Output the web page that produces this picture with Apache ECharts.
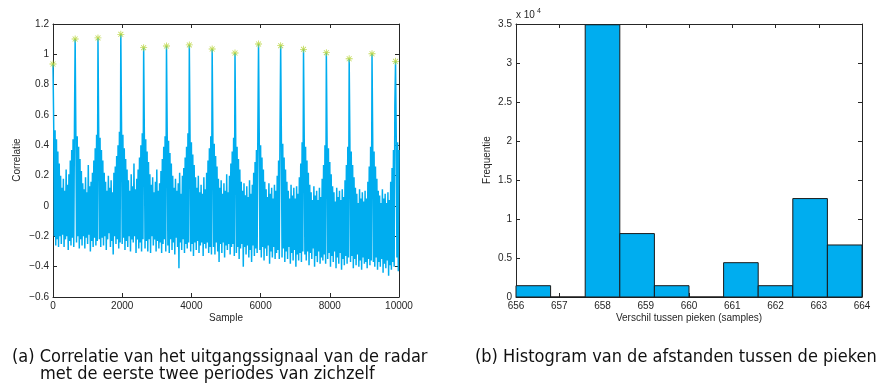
<!DOCTYPE html>
<html><head><meta charset="utf-8">
<script src="https://cdn.jsdelivr.net/npm/echarts@6/dist/echarts.min.js"></script>
<style>html,body{margin:0;padding:0;background:#fff}#c{width:885px;height:389px}</style>
</head><body><div id="c"></div>
<script>
// ---- (a) correlation signal: one value every sampleStep samples ----
const sampleStep = 20;
const correlation = [
0.936,
0.54,-0.2,0.5,-0.26,0.44,-0.22,0.36,-0.27,0.28,-0.2,0.2,-0.25,0.12,-0.19,0.18,-0.27,0.1,-0.22,0.24,-0.2,0.14,-0.29,0.21,-0.23,0.3,-0.26,0.37,-0.21,0.44,-0.27,0.52,
1.101,
0.5,-0.24,0.46,-0.2,0.39,-0.28,0.31,-0.22,0.23,-0.26,0.15,-0.2,0.11,-0.28,0.19,-0.21,0.09,-0.25,0.27,-0.19,0.13,-0.3,0.16,-0.23,0.22,-0.27,0.3,-0.21,0.38,-0.26,0.47,-0.23,
1.108,
0.52,-0.22,0.45,-0.27,0.37,-0.21,0.3,-0.26,0.22,-0.2,0.16,-0.29,0.1,-0.22,0.2,-0.18,0.12,-0.27,0.17,-0.23,0.09,-0.32,0.22,-0.2,0.26,-0.25,0.33,-0.22,0.4,-0.28,0.49,-0.24,
1.132,
0.55,-0.25,0.47,-0.21,0.38,-0.29,0.31,-0.23,0.24,-0.27,0.17,-0.2,0.1,-0.3,0.21,-0.22,0.13,-0.24,0.28,-0.2,0.11,-0.31,0.18,-0.22,0.24,-0.28,0.32,-0.24,0.4,-0.3,0.48,-0.22,
1.044,
0.48,-0.28,0.44,-0.23,0.36,-0.3,0.29,-0.22,0.21,-0.31,0.14,-0.2,0.19,-0.26,0.09,-0.22,0.16,-0.3,0.24,-0.23,0.1,-0.28,0.15,-0.24,0.23,-0.31,0.31,-0.25,0.39,-0.22,0.46,-0.3,
1.055,
0.5,-0.26,0.43,-0.31,0.35,-0.22,0.28,-0.29,0.2,-0.24,0.12,-0.32,0.18,-0.21,0.1,-0.27,0.15,-0.41,0.22,-0.24,0.08,-0.29,0.2,-0.22,0.25,-0.31,0.32,-0.25,0.39,-0.28,0.48,-0.24,
1.062,
0.47,-0.3,0.42,-0.25,0.34,-0.33,0.27,-0.24,0.19,-0.29,0.12,-0.23,0.2,-0.31,0.09,-0.26,0.14,-0.24,0.08,-0.33,0.19,-0.25,0.11,-0.28,0.22,-0.24,0.3,-0.31,0.38,-0.27,0.46,-0.32,
1.035,
0.48,-0.27,0.41,-0.32,0.33,-0.24,0.26,-0.3,0.18,-0.37,0.12,-0.25,0.17,-0.31,0.08,-0.24,0.15,-0.34,0.1,-0.26,0.21,-0.29,0.09,-0.25,0.2,-0.32,0.28,-0.27,0.36,-0.25,0.45,-0.33,
1.009,
0.46,-0.31,0.39,-0.27,0.31,-0.35,0.24,-0.28,0.16,-0.25,0.1,-0.4,0.15,-0.27,0.07,-0.32,0.13,-0.26,0.06,-0.34,0.17,-0.29,0.08,-0.37,0.14,-0.26,0.22,-0.33,0.29,-0.28,0.37,-0.31,0.47,
1.068,
0.49,-0.29,0.4,-0.34,0.32,-0.27,0.24,-0.36,0.16,-0.28,0.11,-0.33,0.06,-0.26,0.15,-0.38,0.08,-0.3,0.12,-0.34,0.05,-0.27,0.14,-0.35,0.1,-0.31,0.2,-0.29,0.3,-0.35,0.46,
1.057,
0.47,-0.34,0.41,-0.28,0.32,-0.37,0.24,-0.3,0.16,-0.35,0.1,-0.27,0.05,-0.38,0.14,-0.31,0.07,-0.36,0.12,-0.29,0.05,-0.4,0.13,-0.32,0.08,-0.36,0.19,-0.31,0.28,-0.37,0.42,-0.3,
1.033,
0.47,-0.32,0.39,-0.36,0.3,-0.3,0.22,-0.39,0.14,-0.31,0.09,-0.35,0.04,-0.28,0.13,-0.4,0.07,-0.33,0.1,-0.37,0.04,-0.3,0.12,-0.38,0.06,-0.34,0.18,-0.36,0.27,-0.32,0.4,-0.38,
1.011,
0.45,-0.35,0.38,-0.31,0.29,-0.4,0.21,-0.33,0.13,-0.37,0.09,-0.3,0.03,-0.41,0.12,-0.34,0.06,-0.38,0.1,-0.31,0.04,-0.42,0.11,-0.35,0.06,-0.39,0.17,-0.33,0.27,-0.38,0.39,-0.34,
0.971,
0.44,-0.37,0.36,-0.33,0.27,-0.41,0.19,-0.35,0.12,-0.39,0.08,-0.32,0.02,-0.4,0.11,-0.36,0.05,-0.42,0.09,-0.34,0.03,-0.38,0.1,-0.37,0.05,-0.41,0.16,-0.35,0.26,-0.39,0.39,-0.36,
1.004,
0.44,-0.37,0.36,-0.4,0.26,-0.34,0.18,-0.42,0.1,-0.37,0.07,-0.4,0.02,-0.35,0.11,-0.44,0.05,-0.38,0.08,-0.41,0.02,-0.36,0.09,-0.46,0.04,-0.39,0.16,-0.42,0.25,-0.37,0.37,-0.4,0.66,
0.954,
0.46,-0.34,0.42,-0.43,0.37
];
// detected peaks (sample, correlation)
const peakSamples = [0,640,1300,1960,2620,3280,3940,4600,5260,5940,6580,7240,7900,8560,9220,9900];
const peakValues  = [0.936,1.101,1.108,1.132,1.044,1.055,1.062,1.035,1.009,1.068,1.057,1.033,1.011,0.971,1.004,0.954];

// ---- (b) histogram of peak distances ----
const binEdges  = [656,656.8,657.6,658.4,659.2,660,660.8,661.6,662.4,663.2,664];
const binCounts = [1450,0,34900,8130,1450,0,4400,1450,12620,6670];

// axis ranges / tick settings
const corrX = {min:0, max:10000, interval:2000};
const corrY = {min:-0.6, max:1.2, interval:0.2};
const histX = {min:656, max:664, interval:1};
const histY = {min:0, max:35000, interval:5000};

const captionA1 = '(a) Correlatie van het uitgangssignaal van de radar';
const captionA2 = 'met de eerste twee periodes van zichzelf';
const captionB  = '(b) Histogram van de afstanden tussen de pieken';

const AX = '#262626';
const TF = 'Liberation Sans, Arial, Helvetica, sans-serif';
const CF = '"DejaVu Sans Condensed", "DejaVu Sans", sans-serif';
const BLUE = '#00adef';

function axis(grid, rng, pos, labels, fmt){
  return {
    type:'value', gridIndex:grid, position:pos,
    min:rng.min, max:rng.max, interval:rng.interval,
    axisLine:{show:true, onZero:false, lineStyle:{color:AX, width:1}},
    axisTick:{show:true, inside:true, length:4, lineStyle:{color:AX}},
    axisLabel:{show:labels, color:AX, fontSize:10, fontFamily:TF, margin:4, formatter:fmt,
               showMinLabel:true, showMaxLabel:true},
    splitLine:{show:false}
  };
}
const fmtCorr = v => String(+(+v).toFixed(1)).replace('-', '\u2212');
const fmtPlain = v => String(+(+v).toFixed(1));
const fmtHist = v => String(+(v/10000).toFixed(2));

const chart = echarts.init(document.getElementById('c'), null, {renderer:'canvas'});
chart.setOption({
  animation:false,
  backgroundColor:'#fff',
  grid:[
    {left:53, top:24, width:346, height:273},
    {left:516, top:24, width:346, height:273}
  ],
  xAxis:[
    axis(0,corrX,'bottom',true,fmtPlain),
    axis(0,corrX,'top',false),
    axis(1,histX,'bottom',true,fmtPlain),
    axis(1,histX,'top',false)
  ],
  yAxis:[
    axis(0,corrY,'left',true,fmtCorr),
    axis(0,corrY,'right',false),
    axis(1,histY,'left',true,fmtHist),
    axis(1,histY,'right',false)
  ],
  series:[
    {
      type:'line', xAxisIndex:0, yAxisIndex:0,
      data: correlation.map((v,i)=>[i*sampleStep, v]),
      showSymbol:false, symbol:'none', sampling:null,
      lineStyle:{color:BLUE, width:1.5}, z:2
    },
    {
      type:'scatter', xAxisIndex:0, yAxisIndex:0,
      data: peakSamples.map((s,i)=>[s, peakValues[i]]),
      symbol:'path://M-0.6,-5L0.6,-5L0.6,5L-0.6,5ZM-5,-0.6L5,-0.6L5,0.6L-5,0.6ZM-3.9,-3.1L-3.1,-3.9L3.9,3.1L3.1,3.9ZM3.1,-3.9L3.9,-3.1L-3.1,3.9L-3.9,3.1Z',
      symbolSize:7,
      itemStyle:{color:'#b4d232'}, z:5
    },
    {
      type:'custom', xAxisIndex:2, yAxisIndex:2,
      data: binCounts.map((c,i)=>[binEdges[i], binEdges[i+1], c]),
      encode:{x:[0,1], y:2},
      renderItem:function(params, api){
        const p0 = api.coord([api.value(0), api.value(2)]);
        const p1 = api.coord([api.value(1), 0]);
        return {type:'rect',
          shape:{x:p0[0], y:p0[1], width:p1[0]-p0[0], height:p1[1]-p0[1]},
          style:{fill:BLUE, stroke:'#1a1a1a', lineWidth:1}};
      }, z:2
    }
  ],
  graphic:[
    {type:'text', x:17, y:160, rotation:Math.PI/2,
     style:{text:'Correlatie', fill:AX, font:'10px '+TF, textAlign:'center', textVerticalAlign:'middle'}},
    {type:'text', x:226, y:318,
     style:{text:'Sample', fill:AX, font:'10px '+TF, textAlign:'center', textVerticalAlign:'middle'}},
    {type:'text', x:487, y:160, rotation:Math.PI/2,
     style:{text:'Frequentie', fill:AX, font:'10px '+TF, textAlign:'center', textVerticalAlign:'middle'}},
    {type:'text', x:689, y:318,
     style:{text:'Verschil tussen pieken (samples)', fill:AX, font:'10px '+TF, textAlign:'center', textVerticalAlign:'middle'}},
    {type:'text', x:516, y:15,
     style:{text:'x 10', fill:AX, font:'10px '+TF, textAlign:'left', textVerticalAlign:'middle'}},
    {type:'text', x:537, y:11,
     style:{text:'4', fill:AX, font:'7px '+TF, textAlign:'left', textVerticalAlign:'middle'}},
    {type:'text', x:12, y:357,
     style:{text:captionA1, fill:'#111', font:'18px '+CF, textAlign:'left', textVerticalAlign:'middle'}},
    {type:'text', x:40, y:374,
     style:{text:captionA2, fill:'#111', font:'18px '+CF, textAlign:'left', textVerticalAlign:'middle'}},
    {type:'text', x:475, y:357,
     style:{text:captionB, fill:'#111', font:'18px '+CF, textAlign:'left', textVerticalAlign:'middle'}}
  ]
});
</script></body></html>
